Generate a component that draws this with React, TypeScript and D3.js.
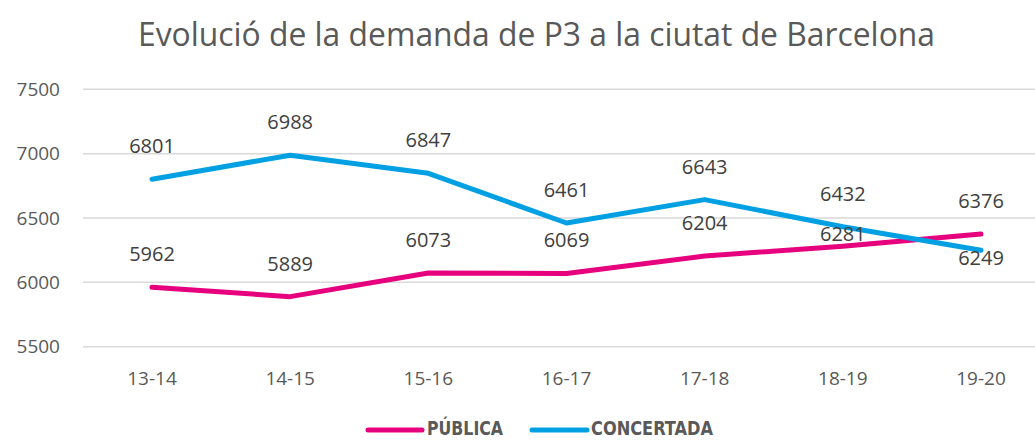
import React from "react";
import * as d3 from "d3";

const categories = ["13-14", "14-15", "15-16", "16-17", "17-18", "18-19", "19-20"];
const publica = [5962, 5889, 6073, 6069, 6204, 6281, 6376];
const concertada = [6801, 6988, 6847, 6461, 6643, 6432, 6249];
const yTicks = [5500, 6000, 6500, 7000, 7500];

// label nudges (px from point) where the source chart moved them by hand
const publicaLabelDy = [-33, -33, -33, -33, -33, -12, -33];
const concertadaLabelDy = [-33, -33, -33, -33, -33, -33, 8];

const PINK = "#E6007E";
const BLUE = "#00A0E3";

const App: React.FC = () => {
  const width = 1035;
  const height = 441;

  const x = d3.scalePoint<string>().domain(categories).range([152, 981]);
  const y = d3.scaleLinear().domain([5500, 7500]).range([346.7, 89.3]);

  const line = d3
    .line<number>()
    .x((_, i) => x(categories[i]) as number)
    .y((d) => y(d));

  const series = [
    { name: "PÚBLICA", values: publica, color: PINK, dy: publicaLabelDy },
    { name: "CONCERTADA", values: concertada, color: BLUE, dy: concertadaLabelDy },
  ];

  const font = "'Open Sans', sans-serif";

  return (
    <svg
      width={width}
      height={height}
      style={{ position: "absolute", left: 0, top: 0, background: "#fff" }}
    >
      <text
        x={138}
        y={46}
        fontFamily="'Open Sans', sans-serif"
        fontSize={33}
        fontWeight={500}
        fill="#595959"
        textLength={797}
        lengthAdjust="spacingAndGlyphs"
      >
        Evolució de la demanda de P3 a la ciutat de Barcelona
      </text>

      {/* grid + y ticks */}
      {yTicks.map((t) => (
        <g key={t}>
          <line x1={83} x2={width} y1={y(t)} y2={y(t)} stroke="#d9d9d9" strokeWidth={1.5} />
          <text
            x={60}
            y={y(t)}
            dy="0.35em"
            textAnchor="end"
            fontFamily={font}
            fontSize={19}
            fill="#595959"
          >
            {t}
          </text>
        </g>
      ))}

      {/* x labels */}
      {categories.map((c) => (
        <text
          key={c}
          x={x(c)}
          y={378}
          dy="0.35em"
          textAnchor="middle"
          fontFamily={font}
          fontSize={19}
          fill="#595959"
        >
          {c}
        </text>
      ))}

      {series.map((s) => (
        <path
          key={s.name}
          d={line(s.values) || ""}
          fill="none"
          stroke={s.color}
          strokeWidth={5}
          strokeLinecap="round"
          strokeLinejoin="round"
        />
      ))}

      {series.map((s) =>
        s.values.map((v, i) => (
          <text
            key={s.name + i}
            x={x(categories[i])}
            y={y(v) + s.dy[i]}
            dy="0.35em"
            textAnchor="middle"
            fontFamily={font}
            fontSize={20}
            fill="#404040"
          >
            {v}
          </text>
        ))
      )}

      {/* legend */}
      <line x1={368} x2={422} y1={430} y2={430} stroke={PINK} strokeWidth={5} strokeLinecap="round" />
      <text
        x={427}
        y={435}
        fontFamily="'DejaVu Sans Condensed', 'DejaVu Sans', sans-serif"
        fontWeight="bold"
        fontSize={19}
        fill="#595959"
        textLength={76}
        lengthAdjust="spacingAndGlyphs"
      >
        PÚBLICA
      </text>
      <line x1={532} x2={587} y1={430} y2={430} stroke={BLUE} strokeWidth={5} strokeLinecap="round" />
      <text
        x={591}
        y={435}
        fontFamily="'DejaVu Sans Condensed', 'DejaVu Sans', sans-serif"
        fontWeight="bold"
        fontSize={19}
        fill="#595959"
        textLength={122}
        lengthAdjust="spacingAndGlyphs"
      >
        CONCERTADA
      </text>
    </svg>
  );
};

export default App;
